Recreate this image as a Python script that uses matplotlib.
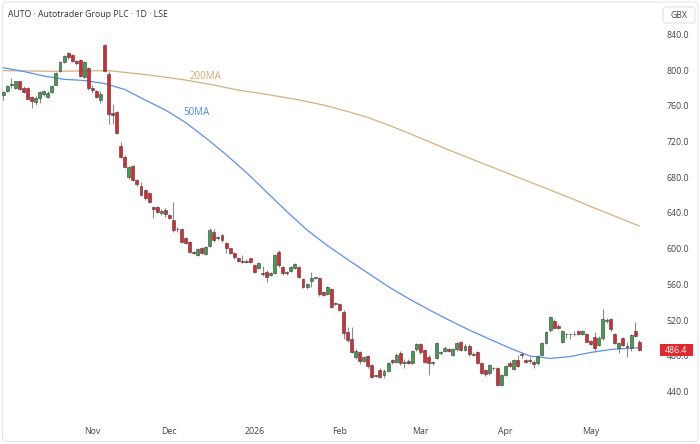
import matplotlib
matplotlib.use("Agg")
import matplotlib.pyplot as plt
from matplotlib.patches import Rectangle, FancyBboxPatch
from matplotlib.transforms import IdentityTransform
import numpy as np

plt.rcParams['font.family'] = ['Open Sans', 'DejaVu Sans']

# ---------------- data (GBX) ----------------
opens = [772, 776, 783, 779.8, 787.3, 779.8, 779.8, 769.8, 763.8, 768.7,
         773, 769.8, 775.4, 783.5, 799.2, 808.5, 818.9, 816.3, 809.6, 811.5,
         791.8, 802.2, 779.8, 776.8, 766, 828.3, 795.8, 751.9, 753, 715.4,
         703.1, 680, 693, 676.9, 670.2, 665.7, 662.4, 647, 646.7, 639.6,
         643.3, 637.7, 632.1, 622.5, 621.7, 612, 607.8, 596, 592.9, 600.8,
         593.7, 603, 619, 612, 615.3, 606.4, 600.4, 594.9, 589.9, 585.5,
         586.6, 589.3, 581.7, 578.1, 573, 574.3, 570.6, 573.1, 596.6, 579.8,
         573.5, 575.4, 578.1, 579.2, 566.1, 556.8, 564.2, 567, 566.9, 551.9,
         549.3, 554.6, 538.5, 537.8, 529.5, 507.1, 498.6, 479.1, 484, 474.6,
         479.9, 469.8, 457.5, 464.2, 458.6, 463.1, 475.4, 472.8, 482.9, 472,
         474.6, 472.4, 487.4, 493, 486.6, 479.1, 472, 477.3, 483.3, 485.8,
         487.4, 481, 487.4, 495.2, 486.6, 491.1, 481.5, 484, 471.7, 464.2,
         460.5, 466.5, 466.1, 447.4, 458.6, 472.4, 465, 475.4, 481.3, 475.4,
         474.5, 473.5, 471.7, 481, 494.8, 509, 519.4, 513.8, 495.2, 504,
         504.5, 504, 508.2, 504.9, 504.5, 497, 501.5, 492.2, 499.7, 519.5,
         521, 504.5, 489.2, 499.7, 490.5, 488.5, 507.9, 495.2]
highs = [777, 783.5, 791, 788, 788, 781.7, 781, 771, 770.5, 776,
         778, 776, 783.5, 797.7, 810.4, 817, 820, 817.8, 811.5, 812.6,
         809.6, 802.9, 783.5, 778, 776, 829, 798.4, 762.3, 753.8, 719.5,
         705.4, 692.3, 694.2, 678, 675, 667, 663, 648, 648, 644,
         645, 639, 652.6, 624, 623, 613, 609, 597, 601, 602,
         603, 623, 622, 614, 617, 608, 601, 596, 591, 593,
         588, 590, 583, 585, 581, 576, 574, 594, 598, 581,
         575, 581, 584, 581, 567, 562, 574, 568.5, 568, 553,
         558, 556, 540, 539, 531, 512, 512, 488, 486, 480,
         481, 471, 459, 466, 465, 473, 477, 483, 485, 477,
         476, 487, 494, 494.5, 488, 481, 474, 495.5, 486, 491,
         489, 489, 495, 497, 493, 493, 484, 485, 473, 465.5,
         471, 468, 468, 460, 470, 474, 477, 481, 484, 477,
         479, 475, 481, 496, 508, 525, 521, 516, 509, 506,
         506, 508, 509, 509, 506, 498, 507, 502, 532.5, 522,
         522.5, 506, 495, 501, 495.5, 505, 517.6, 498]
lows = [767, 775, 780, 779, 778, 774, 766, 758, 761, 763,
        770.5, 768.7, 774, 782.8, 797.7, 807.8, 812.6, 808.9, 805.9, 791.8,
        791, 778, 774, 768.7, 763, 797.7, 739.6, 739.6, 728.8, 701.6,
        690.5, 678.5, 675.5, 670, 659, 655, 651, 634.4, 640, 638,
        635, 633, 619, 619, 606, 605, 595, 594.5, 592, 594,
        593, 602, 608, 610, 608, 595, 594, 589, 585, 583.5,
        584, 584.5, 573, 577, 569, 563, 569, 572, 580, 571,
        571, 574, 577, 567, 556, 555, 557, 566, 547.5, 547,
        548, 534, 537, 530, 498.6, 496, 483, 476, 471, 473,
        467, 455, 456.5, 455, 455, 462, 471, 471.5, 470, 466,
        471, 471, 486, 482, 472, 458.6, 470, 476, 481, 484,
        484, 480, 486, 485, 485, 480, 480, 471, 460, 458,
        459, 464, 446, 446, 457, 468, 464, 468, 478, 472,
        472, 466.8, 470, 480, 493, 507, 510, 510, 494, 500,
        499, 502, 503, 503, 495, 492, 486, 491, 498, 517,
        508, 493, 483, 491, 479, 486, 501, 485.5]
closes = [775, 781.7, 784, 787.3, 778.7, 775.4, 767.6, 765, 768.7, 775,
          776, 773.9, 781.7, 796.6, 808.9, 816, 814.1, 809.6, 807.8, 792.9,
          808.5, 779.8, 778, 769.4, 773.5, 798.4, 750.8, 750, 729.6, 702.4,
          691.9, 691.2, 677, 672.4, 660.1, 657.1, 652.3, 644.8, 641.1, 642.5,
          638.8, 634.4, 620.9, 621.5, 607.8, 606.7, 596, 595.3, 599.7, 595.2,
          602.2, 620.9, 609.7, 613, 609.7, 600.4, 595.5, 590.4, 586.2, 585,
          584.8, 585.4, 574.3, 584.3, 572.2, 568.7, 572.5, 592.9, 581.7, 572.5,
          573, 579.8, 582.9, 568.7, 557.5, 560.5, 566.9, 567.5, 549, 548.2,
          556.8, 535.1, 539, 531.4, 506, 497.8, 484.7, 485.5, 474.3, 479.1,
          469, 456.7, 458, 456.7, 463.1, 471.7, 472.8, 481, 471.7, 472.5,
          472.4, 485.5, 493, 484, 473.5, 471.7, 472.6, 494.1, 483.8, 489.2,
          485.5, 487.4, 494.1, 486.6, 491.1, 481.8, 482, 472.4, 461.2, 459.4,
          469.8, 466, 447.4, 458.6, 469, 469, 475.4, 469, 480.8, 473.5,
          474, 470.9, 479.9, 494.8, 507.1, 523.2, 511.6, 510.9, 508.2, 504.5,
          504, 504.3, 504.9, 508.2, 495.9, 493.3, 489.2, 500.4, 521, 520,
          509.8, 494.1, 494.1, 492.2, 490, 503.4, 502.6, 486.4]

ma50_idx = [0, 5, 10, 15, 20, 25, 30, 35, 40, 45, 50, 55, 60, 65, 70, 75, 80,
            85, 90, 95, 100, 105, 110, 115, 120, 125, 130, 135, 140, 145, 150,
            157]
ma50_val = [802.6, 798.4, 793.3, 789.6, 788.3, 784.9, 778.2, 766.5, 755.3,
            741.3, 723.9, 705.4, 685.3, 663.5, 641.6, 620.9, 603.6, 587.9,
            572.8, 557.7, 544.3, 531.9, 520.2, 509, 498.9, 488.8, 479.9, 477.1,
            479.3, 483.8, 487.2, 489.2]
ma200_idx = [0, 12, 26, 36, 45, 52, 58, 66, 73, 79, 85, 90, 95, 100, 105, 110,
             115, 120, 125, 130, 135, 140, 145, 150, 157]
ma200_val = [799.3, 798.6, 799.3, 794.4, 788.8, 783.2, 777.6, 772, 766.5,
             760.9, 753.6, 746.9, 738.5, 729.5, 720, 710.5, 701.5, 692.6, 683.6,
             674.7, 665.7, 656.8, 647.2, 638.3, 625.4]

month_idx = [22, 41, 62, 83, 103, 124, 145]
month_labels = ["Nov", "Dec", "2026", "Feb", "Mar", "Apr", "May"]
price_ticks = [440, 480, 520, 560, 600, 640, 680, 720, 760, 800, 840]
title = "AUTO \u00b7 Autotrader Group PLC \u00b7 1D \u00b7 LSE"
currency = "GBX"

# ---------------- figure ----------------
W, H = 700, 444
fig = plt.figure(figsize=(W / 100, H / 100), dpi=100)
fig.patch.set_facecolor("white")

ax_left, ax_right, ax_top, ax_bot = 0, 655, 25, 420
ax = fig.add_axes([ax_left / W, 1 - ax_bot / H, (ax_right - ax_left) / W,
                   (ax_bot - ax_top) / H])
ax.set_facecolor("none")

n = len(closes)
x = np.arange(n)
o = np.array(opens); c = np.array(closes)
hi = np.array(highs); lo = np.array(lows)
up = c >= o

green = "#3f9f4b"
red = "#e1262d"
ax.vlines(x, lo, hi, color="#8c8c8c", lw=0.8, zorder=2)
body_bot = np.minimum(o, c)
body_h = np.maximum(np.abs(c - o), 0.9)
ax.bar(x, body_h, bottom=body_bot, width=0.74,
       color=np.where(up, green, red), edgecolor="#3a3a3a", linewidth=0.4,
       zorder=3)

ax.plot(ma200_idx, ma200_val, color="#d8b07c", lw=0.9, zorder=1)
ax.plot(ma50_idx, ma50_val, color="#5c8ff0", lw=0.9, zorder=1)
ax.text(46, 793, "200MA", color="#d4a96c", fontsize=7, va="center", ha="left")
ax.text(44.5, 753, "50MA", color="#4f86ee", fontsize=7, va="center", ha="left")

# scales: index -> 3.3 + 4.05*i px ; price -> 34.3 + (840-p)*0.8933 px
ax.set_xlim((ax_left - 3.3) / 4.05, (ax_right - 3.3) / 4.05)
ax.set_ylim(840 - (ax_bot - 34.3) / 0.8933, 840 + (34.3 - ax_top) / 0.8933)

for s in ax.spines.values():
    s.set_visible(False)
ax.yaxis.tick_right()
ax.set_yticks(price_ticks)
ax.set_yticklabels([f"{v:.1f}" for v in price_ticks])
ax.set_xticks(month_idx)
ax.set_xticklabels(month_labels)
ax.tick_params(axis="y", length=0, pad=8.6, labelsize=6.3, colors="#444444")
ax.tick_params(axis="x", length=0, pad=5.2, labelsize=6.3, colors="#444444")

# last price label
ident = IdentityTransform()
y_last = ax.transData.transform((0, closes[-1]))[1]
fig.add_artist(Rectangle((660, y_last - 6), 33, 12, transform=ident,
                         facecolor="#e5262b", edgecolor="none", zorder=5))
fig.text(676.5, y_last, f"{closes[-1]:.1f}", transform=ident, color="white",
         fontsize=6.3, ha="center", va="center", zorder=6)

# currency box
fig.add_artist(FancyBboxPatch((663, H - 23), 32, 16, transform=ident,
                              boxstyle="round,pad=0,rounding_size=3",
                              facecolor="white", edgecolor="#e2e2e2", lw=0.8,
                              zorder=5))
fig.text(679, H - 15, currency, transform=ident, color="#444444",
         fontsize=6.3, ha="center", va="center", zorder=6)

# title
fig.text(8, H - 14.5, title, transform=ident, color="#333333", fontsize=6.3,
         ha="left", va="center")

# outer frame
fig.add_artist(FancyBboxPatch((2.5, H - 441.5), 695.5, 439.5, transform=ident,
                              boxstyle="round,pad=0,rounding_size=4",
                              facecolor="none", edgecolor="#e6e6e6", lw=0.8,
                              zorder=0))

fig.savefig("out.png", dpi=100, facecolor="white")
